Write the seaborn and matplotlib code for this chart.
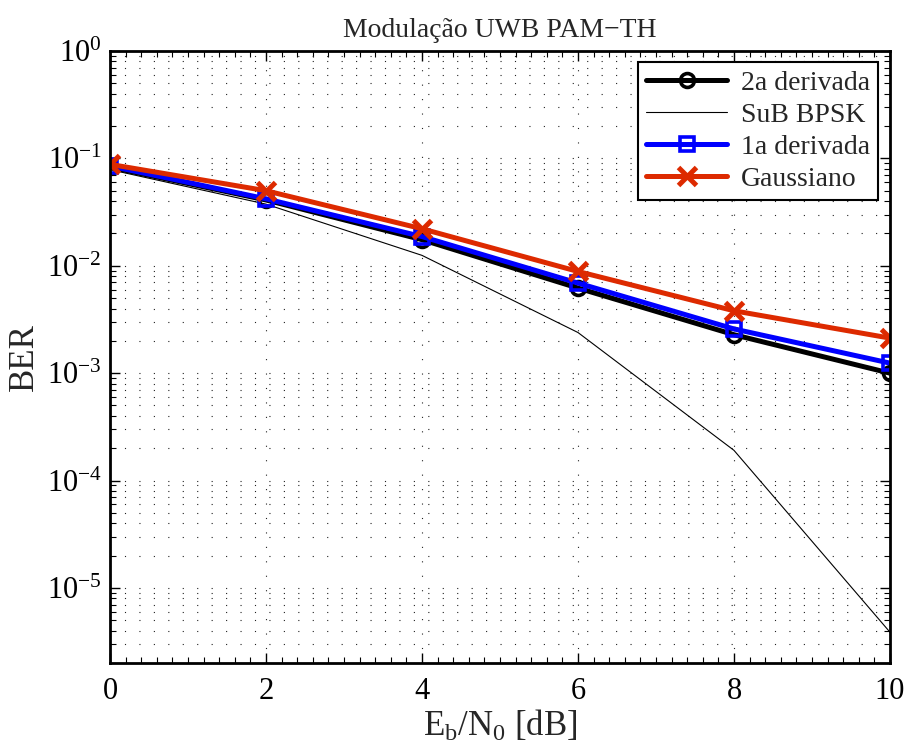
import matplotlib
matplotlib.use("Agg")
import matplotlib.pyplot as plt
import seaborn as sns
import numpy as np
import pandas as pd
from matplotlib.ticker import LogLocator, MultipleLocator, LogFormatterSciNotation, NullFormatter

# ---- data ----
ebn0 = [0, 2, 4, 6, 8, 10]
der2 = [0.083, 0.041, 0.0175, 0.0062, 0.00228, 0.00100]
bpsk = [0.0786, 0.0375, 0.0125, 0.00239, 0.000191, 0.00000387]
der1 = [0.085, 0.042, 0.0187, 0.0069, 0.00258, 0.00124]
gauss = [0.088, 0.050, 0.0221, 0.00885, 0.00381, 0.00212]
labels = ["2a derivada", "SuB BPSK", "1a derivada", "Gaussiano"]
xticks = [0, 2, 4, 6, 8, 10]

sns.set_style("ticks")
plt.rcParams["font.family"] = ["Liberation Serif", "DejaVu Serif"]
plt.rcParams["mathtext.fontset"] = "custom"
plt.rcParams["mathtext.rm"] = "Liberation Serif"
plt.rcParams["mathtext.it"] = "Liberation Serif:italic"
plt.rcParams["mathtext.default"] = "regular"

fig = plt.figure(figsize=(9.09, 7.47), dpi=100)
ax = fig.add_axes([110/909, 1-663/747, 780/909, 612/747])

red = "#DD2A00"
styles = [
    dict(color="black", lw=3.6, marker="o", ms=10, mew=2.6, mfc="none"),
    dict(color="black", lw=0.8, marker=None),
    dict(color="#0000FF", lw=3.6, marker="s", ms=10, mew=2.6, mfc="none"),
    dict(color=red, lw=3.6, marker="x", ms=13, mew=3.6),
]
series = [der2, bpsk, der1, gauss]
for vals, lab, st in zip(series, labels, styles):
    df = pd.DataFrame({"x": ebn0, "y": vals})
    kw = dict(color=st["color"], linewidth=st["lw"], label=lab)
    if st["marker"]:
        kw.update(marker=st["marker"], markersize=st["ms"], markeredgewidth=st["mew"],
                  markeredgecolor=st["color"])
        if st.get("mfc"):
            kw.update(markerfacecolor=st["mfc"])
    sns.lineplot(data=df, x="x", y="y", ax=ax, **kw)

ax.set_yscale("log")
ax.set_xlim(0, 10)
ax.set_ylim(2e-6, 1)
ax.set_xticks(xticks)
ax.xaxis.set_minor_locator(MultipleLocator(0.2))
ax.yaxis.set_major_locator(LogLocator(base=10, numticks=20))
ax.yaxis.set_minor_locator(LogLocator(base=10, subs=np.arange(2, 10), numticks=100))
ax.yaxis.set_major_formatter(LogFormatterSciNotation())
ax.yaxis.set_minor_formatter(NullFormatter())

dot = (0, (1, 12))
ax.grid(True, which="major", axis="both", color="#222222", linestyle=dot, linewidth=0.8)
ax.grid(True, which="minor", axis="y", color="#222222", linestyle=dot, linewidth=0.8)
ax.set_axisbelow(True)

ax.tick_params(which="both", direction="in", top=True, right=True, colors="black")
ax.tick_params(which="major", length=7, width=1.0, labelsize=22)
ax.tick_params(axis="y", which="major", pad=6)
ax.tick_params(axis="x", which="major", pad=10)
ax.tick_params(which="minor", length=4, width=0.8)
for s in ax.spines.values():
    s.set_linewidth(2.0)
    s.set_color("black")

ax.set_xlabel(r"$E_b/N_0$ [dB]", fontsize=25, labelpad=2)
ax.set_ylabel("BER", fontsize=25)
ax.yaxis.set_label_coords(-0.088, 0.5)
ax.set_title("Modulação UWB PAM−TH", fontsize=20, pad=10)

leg = ax.legend(loc="upper right", fontsize=20, handlelength=2.9, frameon=True,
                fancybox=False, edgecolor="black", framealpha=1,
                borderpad=0.3, labelspacing=0.24, handletextpad=0.5,
                borderaxespad=0, bbox_to_anchor=(0.985, 0.982))
leg.get_frame().set_linewidth(1.5)

fig.savefig("out.png", dpi=100)
